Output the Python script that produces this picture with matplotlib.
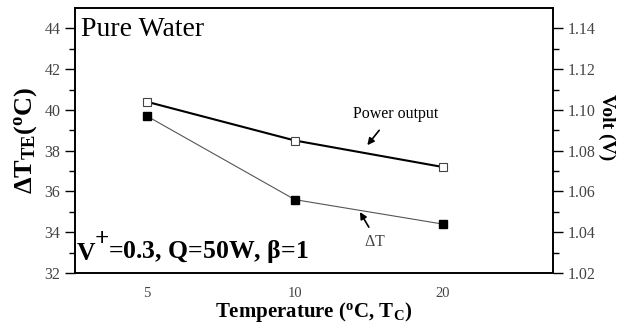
import matplotlib
matplotlib.use("Agg")
import matplotlib.pyplot as plt

plt.rcParams['font.family'] = ['Liberation Serif', 'DejaVu Serif']
plt.rcParams['mathtext.fontset'] = 'custom'
plt.rcParams['mathtext.rm'] = 'Liberation Serif'
plt.rcParams['mathtext.it'] = 'Liberation Serif:italic'
plt.rcParams['mathtext.bf'] = 'Liberation Serif:bold'

temps = ["5", "10", "20"]
delta_t = [39.7, 35.6, 34.4]
power = [1.104, 1.085, 1.072]

x = list(range(len(temps)))

fig = plt.figure(figsize=(6.18, 3.25), dpi=100)
ax = fig.add_axes([75/618, 1 - 273/325, 478/618, 265/325])
ax2 = ax.twinx()

ax.plot(x, delta_t, color="#555555", lw=0.8, marker="s", ms=6,
        mfc="black", mec="black", zorder=3)
ax2.plot(x, power, color="black", lw=1.5, marker="s", ms=6,
         mfc="white", mec="#444444", mew=0.8, zorder=3)

ax.set_xlim(-0.486, 2.745)
ax.set_ylim(32, 45)
ax2.set_ylim(1.02, 1.15)
ax.set_xticks(x)
ax.set_xticklabels(temps)
ax.set_xticks([1], minor=True)
ax.set_yticks([32, 34, 36, 38, 40, 42, 44])
ax.set_yticks([33, 35, 37, 39, 41, 43], minor=True)
ax2.set_yticks([1.02, 1.04, 1.06, 1.08, 1.10, 1.12, 1.14])
ax2.set_yticks([1.03, 1.05, 1.07, 1.09, 1.11, 1.13], minor=True)
ax2.set_yticklabels(["1.02", "1.04", "1.06", "1.08", "1.10", "1.12", "1.14"])

for a in (ax, ax2):
    a.tick_params(direction="out", length=7, width=1, labelsize=11.5,
                  labelcolor="#444444", top=False)
    a.tick_params(which="minor", direction="out", length=4, width=1)
    for s in a.spines.values():
        s.set_linewidth(1.2)
ax.tick_params(axis="x", which="major", length=0, pad=10, labelsize=10.5)
ax.tick_params(axis="x", which="minor", length=5, direction="out")

ax.set_xlabel(r"Temperature ($^{\mathbf{o}}$C, T$_{\mathbf{C}}$)",
              fontsize=15, fontweight="bold", labelpad=0)
ax.set_ylabel(r"$\mathbf{\Delta T_{TE}(^{o}C)}$", fontsize=19, labelpad=4)
ax2.set_ylabel("Volt (V)", fontsize=14, fontweight="bold", rotation=270,
               labelpad=18)
ax2.yaxis.set_label_coords(1.13, 0.55)

ax.text(0.012, 0.965, "Pure Water", transform=ax.transAxes, fontsize=20,
        va="top", ha="left")

tv = ax.text(0.004, 0.03, "V", transform=ax.transAxes, fontsize=18.5,
             fontweight="bold", va="bottom", ha="left")
tp = ax.annotate("+", xy=(0.95, 0.62), xycoords=tv, fontsize=18,
                 fontweight="bold", va="bottom", ha="left")
ax.annotate(r"=0.3, Q=50W, $\mathbf{\beta}$=1", xy=(0.95, 0), xycoords=(tp, tv),
            fontsize=18.5, fontweight="bold", va="bottom", ha="left")

arrow = dict(arrowstyle="-|>", color="black", lw=1.2, mutation_scale=10,
             shrinkA=0, shrinkB=0)
ax2.text(1.68, 1.098, "Power output", fontsize=11.5, ha="center", va="center")
ax2.annotate("", xy=(1.49, 1.0827), xytext=(1.57, 1.090), arrowprops=arrow)
ax.text(1.54, 33.52, r"$\Delta$T", fontsize=11.5, ha="center", va="center",
        color="#444444")
ax.annotate("", xy=(1.44, 34.99), xytext=(1.50, 34.25), arrowprops=arrow)

fig.savefig("out.png", dpi=100)
